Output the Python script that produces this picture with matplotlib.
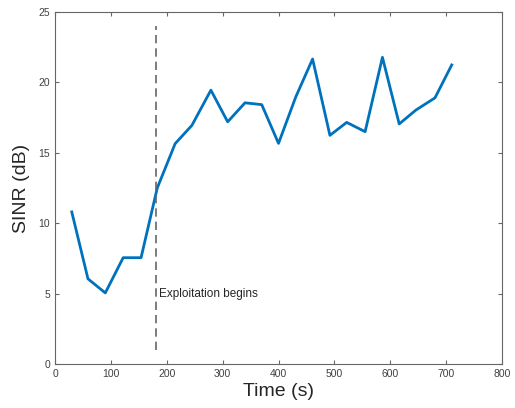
import numpy as np
import matplotlib
matplotlib.use("Agg")
import matplotlib.pyplot as plt

# SINR over time
time_s = [30, 59, 90, 122, 154, 183, 215, 245, 279, 309, 340, 370,
          400, 431, 461, 492, 522, 555, 586, 616, 646, 680, 710]
sinr_db = [10.8, 6.05, 5.05, 7.55, 7.55, 12.5, 15.65, 16.95, 19.45, 17.2,
           18.55, 18.42, 15.67, 18.98, 21.66, 16.24, 17.16, 16.5, 21.78,
           17.05, 18.04, 18.9, 21.24]
exploit_start = 180
xticks = [0, 100, 200, 300, 400, 500, 600, 700, 800]
yticks = [0, 5, 10, 15, 20, 25]

plt.rcParams['font.family'] = ['Liberation Sans', 'DejaVu Sans']

fig = plt.figure(figsize=(5.15, 4.08), dpi=100)
ax = fig.add_axes([0.1068, 0.1078, 0.868, 0.8628])

ax.plot(time_s, sinr_db, color='#0072BD', linewidth=2)
ax.plot([exploit_start, exploit_start], [1, 24], color='#666666',
        linestyle=(0, (5, 3)), linewidth=1.2)
ax.text(exploit_start + 6, 5, "Exploitation begins", fontsize=8.5,
        color='#262626', va='center', ha='left')

ax.set_xlim(0, 800)
ax.set_ylim(0, 25)
ax.set_xticks(xticks)
ax.set_yticks(yticks)
ax.tick_params(direction='in', top=True, right=True, labelsize=7.5,
               color='#666666', labelcolor='#404040', length=3, width=0.8)
for s in ax.spines.values():
    s.set_color('#666666')
    s.set_linewidth(0.8)

ax.set_xlabel("Time (s)", fontsize=14, color='#262626', labelpad=3)
ax.set_ylabel("SINR (dB)", fontsize=14, color='#262626', labelpad=6)

fig.savefig("out.png", dpi=100)
